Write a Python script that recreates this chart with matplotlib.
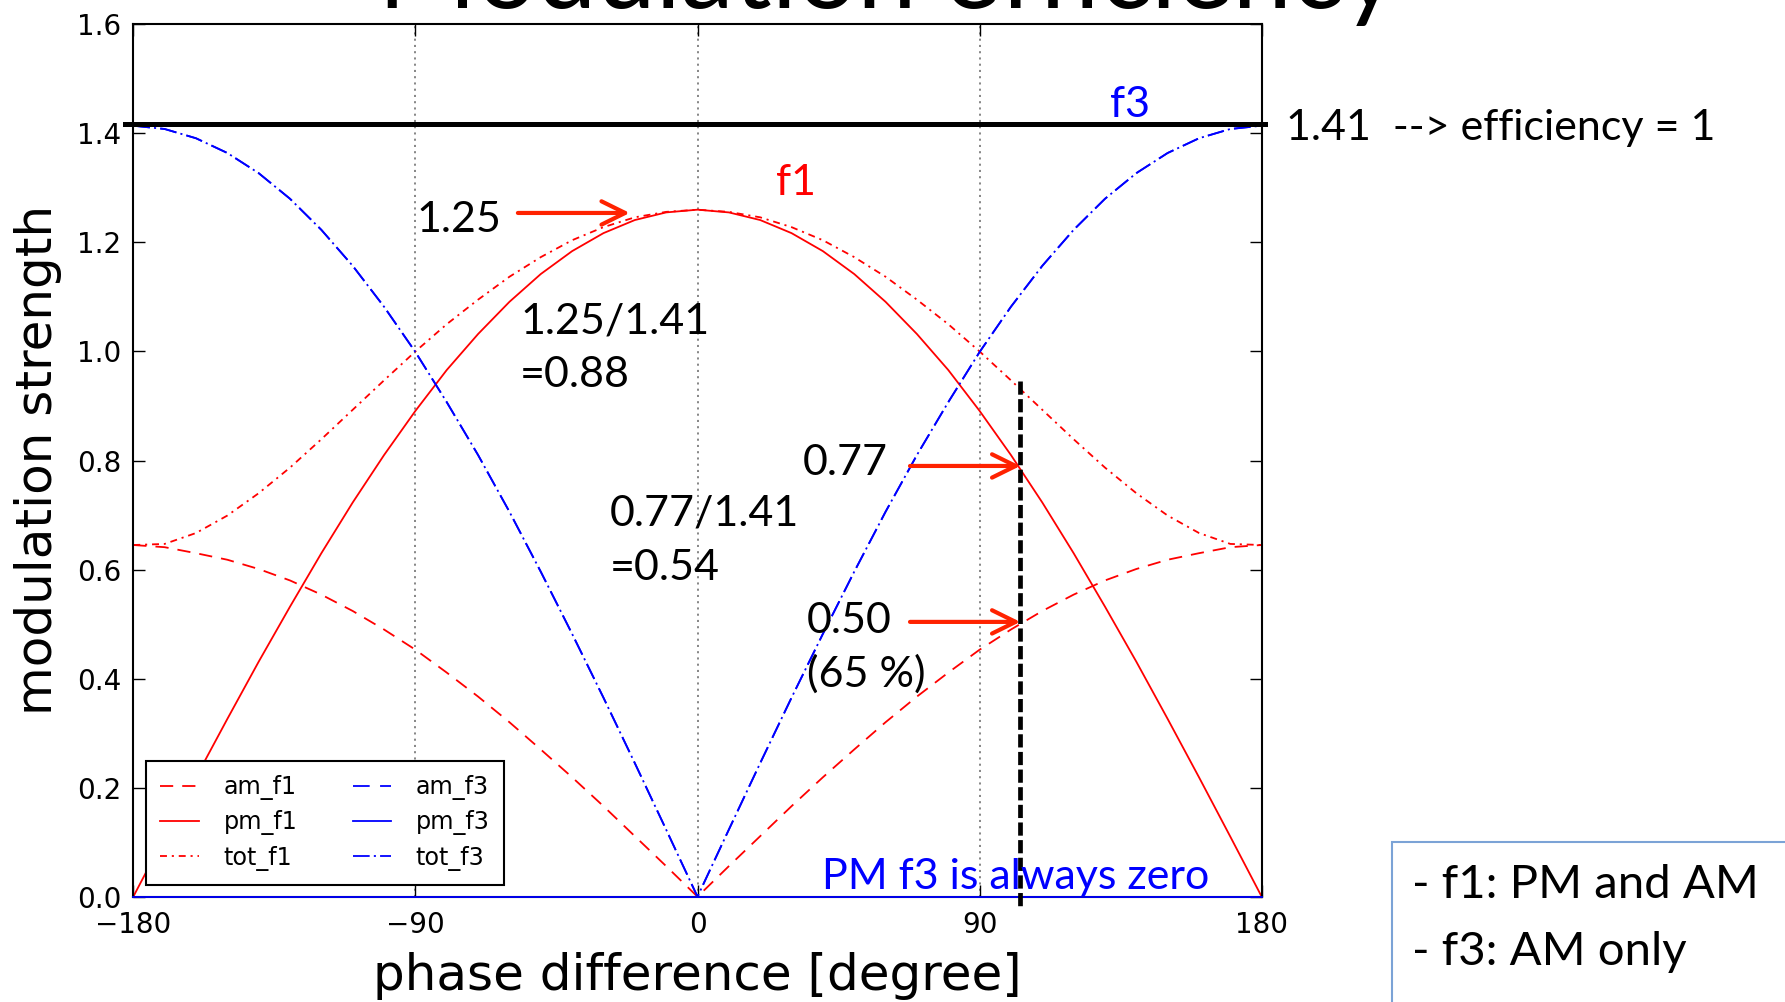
# -*- coding: utf-8 -*-

import matplotlib
matplotlib.use("Agg")
import matplotlib.pyplot as plt
from matplotlib.patches import Rectangle
from matplotlib.ticker import FormatStrFormatter

plt.rcParams['lines.scale_dashes'] = False

# phase difference in degree
phase = [-180, -170, -160, -150, -140, -130, -120, -110, -100, -90,
         -80, -70, -60, -50, -40, -30, -20, -10, 0,
         10, 20, 30, 40, 50, 60, 70, 80, 90,
         100, 110, 120, 130, 140, 150, 160, 170, 180]

am_f1 = [0.645, 0.641, 0.630, 0.618, 0.601, 0.580, 0.554, 0.524, 0.490, 0.453,
         0.411, 0.367, 0.320, 0.270, 0.219, 0.166, 0.111, 0.056, 0.000,
         0.056, 0.111, 0.166, 0.219, 0.270, 0.320, 0.367, 0.411, 0.453,
         0.490, 0.524, 0.554, 0.580, 0.601, 0.618, 0.630, 0.641, 0.645]

pm_f1 = [0.000, 0.110, 0.219, 0.326, 0.431, 0.532, 0.630, 0.723, 0.810, 0.891,
         0.966, 1.032, 1.091, 1.142, 1.184, 1.217, 1.241, 1.255, 1.260,
         1.255, 1.241, 1.217, 1.184, 1.142, 1.091, 1.032, 0.966, 0.891,
         0.810, 0.723, 0.630, 0.532, 0.431, 0.326, 0.219, 0.110, 0.000]

tot_f1 = [0.645, 0.647, 0.667, 0.699, 0.740, 0.787, 0.839, 0.893, 0.947, 1.000,
          1.050, 1.095, 1.137, 1.173, 1.204, 1.228, 1.246, 1.256, 1.260,
          1.256, 1.246, 1.228, 1.204, 1.173, 1.137, 1.095, 1.050, 1.000,
          0.947, 0.893, 0.839, 0.787, 0.740, 0.699, 0.667, 0.647, 0.645]

am_f3 = [1.414, 1.408, 1.391, 1.364, 1.327, 1.280, 1.223, 1.157, 1.082, 0.999,
         0.907, 0.810, 0.706, 0.596, 0.482, 0.365, 0.245, 0.123, 0.000,
         0.123, 0.245, 0.365, 0.482, 0.596, 0.706, 0.810, 0.907, 0.999,
         1.082, 1.157, 1.223, 1.280, 1.327, 1.364, 1.391, 1.408, 1.414]

pm_f3 = [0.0] * len(phase)

tot_f3 = [1.414, 1.408, 1.391, 1.364, 1.327, 1.280, 1.223, 1.157, 1.082, 0.999,
          0.907, 0.810, 0.706, 0.596, 0.482, 0.365, 0.245, 0.123, 0.000,
          0.123, 0.245, 0.365, 0.482, 0.596, 0.706, 0.810, 0.907, 0.999,
          1.082, 1.157, 1.223, 1.280, 1.327, 1.364, 1.391, 1.408, 1.414]

x_ticks = [-180, -90, 0, 90, 180]
y_ticks = [0.0, 0.2, 0.4, 0.6, 0.8, 1.0, 1.2, 1.4, 1.6]

EFF_LEVEL = 1.418     # full efficiency line (drawn a hair above 1.41)
PHASE_MARK = 103      # operating point
PM_AT_MARK = 0.79
AM_AT_MARK = 0.504
PEAK_F1 = 1.254

W, H = 1785, 1002
SLIDE_FONT = ['Lato', 'DejaVu Sans']
ARROW_RED = '#ff2200'


def fx(px):
    return px / float(W)


def fy(py):
    return 1 - py / float(H)


fig = plt.figure(figsize=(W / 100.0, H / 100.0), dpi=100)
ax = fig.add_axes([fx(133.3), fy(896.7), 1128.4 / W, 872.4 / H])

lw = 1.3
ax.plot(phase, am_f1, color='r', lw=lw, dashes=(9.5, 6.5), label='am_f1')
ax.plot(phase, pm_f1, color='r', lw=lw, label='pm_f1', clip_on=False)
ax.plot(phase, tot_f1, color='r', lw=lw, dashes=(5, 3.5, 1.5, 3.5), label='tot_f1')
ax.plot(phase, am_f3, color='b', lw=lw, dashes=(12, 7.5), label='am_f3')
ax.plot(phase, pm_f3, color='b', lw=lw, label='pm_f3', clip_on=False, zorder=3)
ax.plot(phase, tot_f3, color='b', lw=lw, dashes=(12, 3, 1.5, 3), label='tot_f3')

ax.set_xlim(-180, 180)
ax.set_ylim(0, 1.6)
ax.set_xticks(x_ticks)
ax.set_yticks(y_ticks)
ax.yaxis.set_major_formatter(FormatStrFormatter('%.1f'))
ax.tick_params(direction='in', length=8.5, width=1, top=True, right=True,
               labelsize=20)
ax.tick_params(axis='x', pad=10.5)
ax.tick_params(axis='y', pad=8.5)
for sp in ax.spines.values():
    sp.set_linewidth(1.5)
ax.xaxis.grid(True, color='0.4', lw=1.1, linestyle=(0, (1.5, 3)))

leg = ax.legend(ncol=2, loc='lower left', bbox_to_anchor=(0.0113, 0.0134),
                borderaxespad=0, fontsize=17.2, handlelength=1.6,
                handletextpad=1.05, columnspacing=2.3, labelspacing=0.43,
                borderpad=0.6, fancybox=False, framealpha=1)
leg.get_frame().set_edgecolor('k')
leg.get_frame().set_linewidth(1.5)

# axis labels
fig.text(fx(697.5), fy(990), 'phase difference [degree]', fontsize=36,
         ha='center', va='baseline')
fig.text(fx(14), fy(460), 'modulation strength', fontsize=36, rotation=90,
         ha='left', va='center')

# slide annotations
ax.axhline(EFF_LEVEL, xmin=-0.007, xmax=1.003, color='k', lw=3.6,
           clip_on=False, zorder=4)
ax.plot([PHASE_MARK, PHASE_MARK], [0.946, -0.02], color='k', lw=3.4,
        dashes=(9.5, 3.2), clip_on=False, zorder=4)

arrow = dict(arrowstyle='->,head_length=0.85,head_width=0.42', lw=3,
             color=ARROW_RED, mutation_scale=20, shrinkA=0, shrinkB=0)
ax.annotate('', xy=(-21.6, PEAK_F1), xytext=(-57.3, PEAK_F1), arrowprops=arrow)
ax.annotate('', xy=(PHASE_MARK, PM_AT_MARK), xytext=(67.8, PM_AT_MARK),
            arrowprops=arrow)
ax.annotate('', xy=(PHASE_MARK, AM_AT_MARK), xytext=(67.8, AM_AT_MARK),
            arrowprops=arrow)

notes = [
    ('1.25', 416, 232, 'k'),
    ('1.25/1.41', 520, 333, 'k'),
    ('=0.88', 520, 387, 'k'),
    ('0.77/1.41', 610, 526, 'k'),
    ('=0.54', 610, 580, 'k'),
    ('0.77', 803, 475, 'k'),
    ('0.50', 807, 633, 'k'),
    ('(65 %)', 807, 687, 'k'),
    ('1.41  --> efficiency = 1', 1286, 140, 'k'),
    ('f3', 1110, 117, 'b'),
    ('f1', 776, 195, 'r'),
    ('PM f3 is always zero', 822, 889, 'b'),
]
for txt, px, py, col in notes:
    fig.text(fx(px), fy(py), txt, fontsize=31, color=col, family=SLIDE_FONT,
             ha='left', va='baseline')

# slide title, cut by the top edge
fig.text(fx(378), fy(8), 'Modulation efficiency', fontsize=76.5,
         family=SLIDE_FONT, ha='left', va='baseline')

# side box
fig.add_artist(Rectangle((fx(1392), fy(1010)), 400.0 / W, 168.0 / H,
                         transform=fig.transFigure, fill=False,
                         edgecolor='#7ba3d6', lw=1.5))
fig.text(fx(1412), fy(898), '- f1: PM and AM', fontsize=34,
         family=SLIDE_FONT, ha='left', va='baseline')
fig.text(fx(1412), fy(965), '- f3: AM only', fontsize=34,
         family=SLIDE_FONT, ha='left', va='baseline')

fig.savefig('out.png', dpi=100)
